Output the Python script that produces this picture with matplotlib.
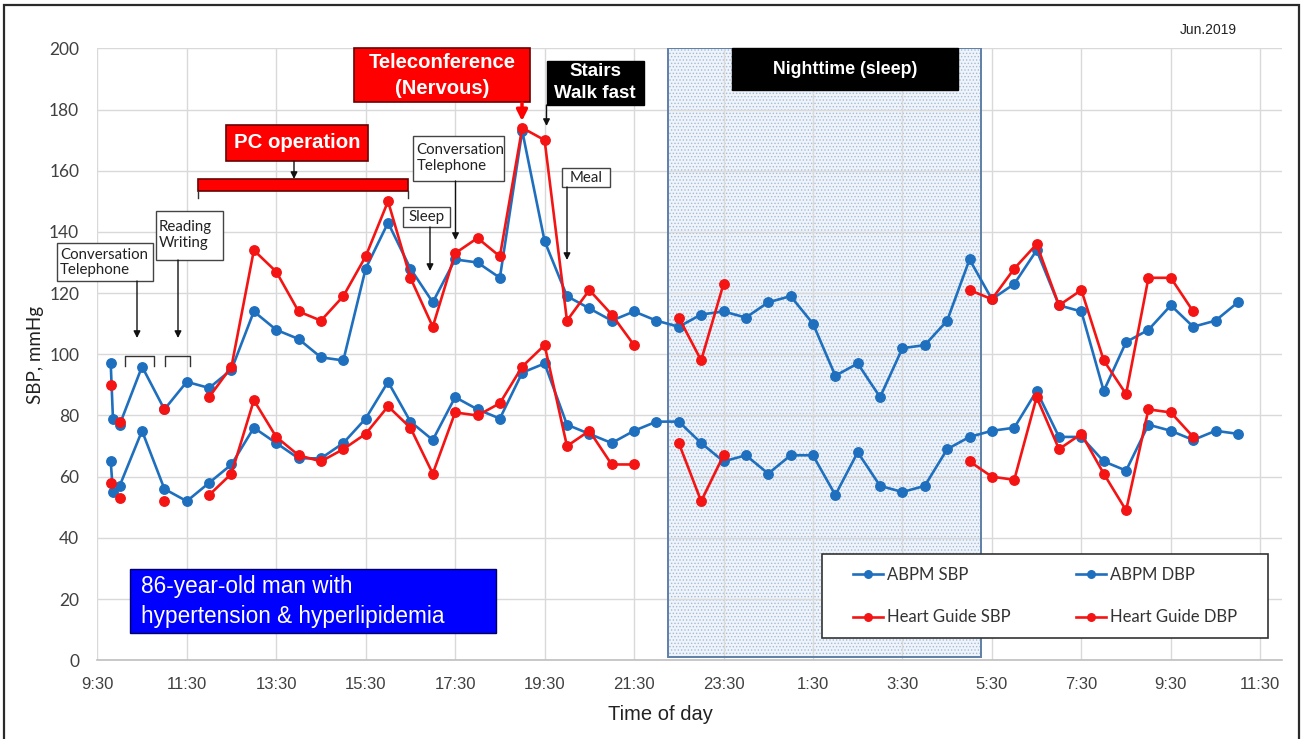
import matplotlib
matplotlib.use('Agg')
import matplotlib.pyplot as plt
from matplotlib.patches import Rectangle
from matplotlib import font_manager as fm
import numpy as np

# ---------------- data ----------------
times = ["9:48", "9:51", "10:00", "10:30", "11:00", "11:30", "12:00", "12:30",
         "13:00", "13:30", "14:00", "14:30", "15:00", "15:30", "16:00", "16:30",
         "17:00", "17:30", "18:00", "18:30", "19:00", "19:30", "20:00", "20:30",
         "21:00", "21:30", "22:00", "22:30", "23:00", "23:30", "0:00", "0:30",
         "1:00", "1:30", "2:00", "2:30", "3:00", "3:30", "4:00", "4:30",
         "5:00", "5:30", "6:00", "6:30", "7:00", "7:30", "8:00", "8:30",
         "9:00", "9:30", "10:00", "10:30", "11:00"]

abpm_sbp = [97, 79, 77, 96, 82, 91, 89, 95,
            114, 108, 105, 99, 98, 128, 143, 128,
            117, 131, 130, 125, 173, 137, 119, 115,
            111, 114, 111, 109, 113, 114, 112, 117,
            119, 110, 93, 97, 86, 102, 103, 111,
            131, 118, 123, 134, 116, 114, 88, 104,
            108, 116, 109, 111, 117]

abpm_dbp = [65, 55, 57, 75, 56, 52, 58, 64,
            76, 71, 66, 66, 71, 79, 91, 78,
            72, 86, 82, 79, 94, 97, 77, 74,
            71, 75, 78, 78, 71, 65, 67, 61,
            67, 67, 54, 68, 57, 55, 57, 69,
            73, 75, 76, 88, 73, 73, 65, 62,
            77, 75, 72, 75, 74]

hg_sbp = [90, None, 78, None, 82, None, 86, 96,
          134, 127, 114, 111, 119, 132, 150, 125,
          109, 133, 138, 132, 174, 170, 111, 121,
          113, 103, None, 112, 98, 123, None, None,
          None, None, None, None, None, None, None, None,
          121, 118, 128, 136, 116, 121, 98, 87,
          125, 125, 114, None, None]

hg_dbp = [58, None, 53, None, 52, None, 54, 61,
          85, 73, 67, 65, 69, 74, 83, 76,
          61, 81, 80, 84, 96, 103, 70, 75,
          64, 64, None, 71, 52, 67, None, None,
          None, None, None, None, None, None, None, None,
          65, 60, 59, 86, 69, 74, 61, 49,
          82, 81, 73, None, None]

x_tick_labels = ["9:30", "11:30", "13:30", "15:30", "17:30", "19:30", "21:30",
                 "23:30", "1:30", "3:30", "5:30", "7:30", "9:30", "11:30"]
y_ticks = [0, 20, 40, 60, 80, 100, 120, 140, 160, 180, 200]
series_labels = ["ABPM SBP", "ABPM DBP", "Heart Guide SBP", "Heart Guide DBP"]

# ---------------- helpers ----------------
def to_hours(labels):
    out, offset, prev = [], 0.0, -1.0
    for s in labels:
        h, m = s.split(":")
        v = int(h) + int(m) / 60.0
        if v + offset < prev:
            offset += 24.0
        out.append(v + offset)
        prev = v + offset
    return np.array(out)

def arr(v):
    return np.array([np.nan if a is None else a for a in v], dtype=float)

x = to_hours(times)

names = {f.name for f in fm.fontManager.ttflist}
NARROW = 'Liberation Sans Narrow' if 'Liberation Sans Narrow' in names else 'Liberation Sans'
ARIAL = 'Liberation Sans'
CAL = 'Lato' if 'Lato' in names else 'DejaVu Sans'

W, H = 1301, 739
fig = plt.figure(figsize=(W / 100, H / 100), dpi=100)

AX_L, AX_R, AX_T, AX_B = 97.3, 1282.0, 48.3, 660.3
ax = fig.add_axes([AX_L / W, 1 - AX_B / H, (AX_R - AX_L) / W, (AX_B - AX_T) / H])
X0 = 9.5
PXH = 44.73      # pixels per hour
PXU = 3.06       # pixels per mmHg
ax.set_xlim(X0, X0 + (AX_R - AX_L) / PXH)
ax.set_ylim(0, 200)

def D(px, py):
    return (X0 + (px - AX_L) / PXH, (AX_B - py) / PXU)

def box(x0, y0, x1, y1, fc, ec, lw=1.0, z=6, fill=True):
    bx, by = D(x0, y1)
    r = Rectangle((bx, by), (x1 - x0) / PXH, (y1 - y0) / PXU, facecolor=fc,
                  edgecolor=ec, lw=lw, clip_on=False, zorder=z, fill=fill)
    ax.add_patch(r)

def txt(px, py, s, **kw):
    tx, ty = D(px, py)
    ax.text(tx, ty, s, clip_on=False, zorder=7, **kw)

def arrow(px, py0, py1, color='#111111', lw=1.0, ms=10):
    ax.annotate('', xy=D(px, py1), xytext=D(px, py0), annotation_clip=False,
                arrowprops=dict(arrowstyle='-|>', color=color, lw=lw,
                                mutation_scale=ms, shrinkA=0, shrinkB=0),
                zorder=7)

def bracket(x0, x1, ytop, ybot):
    a = D(x0, ybot); b = D(x0, ytop); c = D(x1, ytop); d = D(x1, ybot)
    ax.plot([a[0], b[0], c[0], d[0]], [a[1], b[1], c[1], d[1]], color='#333333',
            lw=1.0, clip_on=False, zorder=6)

# ---------------- axes styling ----------------
ax.set_xticks([X0 + 2 * i for i in range(len(x_tick_labels))])
ax.set_xticklabels(x_tick_labels, fontfamily=NARROW, fontsize=12, color='#404040')
ax.set_yticks(y_ticks)
ax.set_yticklabels([str(v) for v in y_ticks], fontfamily=CAL, fontsize=12.5, color='#404040')
ax.tick_params(axis='both', length=0)
ax.tick_params(axis='x', pad=12)
ax.tick_params(axis='y', pad=13)
ax.grid(True, color='#d9d9d9', lw=1.0)
ax.set_axisbelow(True)
for s in ['left', 'right', 'top']:
    ax.spines[s].set_visible(False)
ax.spines['bottom'].set_color('#bfbfbf')
ax.spines['bottom'].set_linewidth(1.2)

fig.text(35 / W, 1 - 355 / H, "SBP, mmHg", rotation=90, ha='center', va='center',
         fontfamily=CAL, fontsize=13.5, color='#222222')
fig.text(660 / W, 1 - 715 / H, "Time of day", ha='center', va='center',
         fontfamily=NARROW, fontsize=14.5, color='#222222')
fig.text(1208 / W, 1 - 30 / H, "Jun.2019", ha='center', va='center',
         fontfamily=NARROW, fontsize=10, color='#222222')

# outer frame
fig.add_artist(Rectangle((4 / W, -0.02), (1299 - 4) / W, 1.02 - 5 / H,
                         transform=fig.transFigure, fill=False, edgecolor='#2a2a2a',
                         lw=1.6))

# ---------------- night band ----------------
plt.rcParams['hatch.linewidth'] = 0.6
n0, n1 = 22.25, 29.25
ax.add_patch(Rectangle((n0, 1), n1 - n0, 199, facecolor='#eff4fa', edgecolor='#a3bad6',
                       hatch='.....', lw=0, zorder=0.3))
ax.add_patch(Rectangle((n0, 1), n1 - n0, 199, fill=False, edgecolor='#5f7fa8',
                       lw=1.4, zorder=0.6))

# ---------------- series ----------------
BLUE = '#1f6fbf'
RED = '#f41414'
kw = dict(marker='o', markersize=6.8, lw=1.9, zorder=3)
l1, = ax.plot(x, arr(abpm_sbp), color=BLUE, **kw)
l2, = ax.plot(x, arr(abpm_dbp), color=BLUE, **kw)
l3, = ax.plot(x, arr(hg_sbp), color=RED, **kw)
l4, = ax.plot(x, arr(hg_dbp), color=RED, **kw)

# legend: frame drawn separately, entries positioned inside
box(822, 554, 1268, 638, 'white', '#333333', 1.2, z=7.5)
lx, ly = D(853, 596)
lx = (lx - ax.get_xlim()[0]) / (ax.get_xlim()[1] - ax.get_xlim()[0])
ly = ly / 200.0
leg = ax.legend([l1, l3, l2, l4], [series_labels[0], series_labels[2], series_labels[1], series_labels[3]],
                ncol=2, loc='center left', bbox_to_anchor=(lx, ly),
                borderaxespad=0, borderpad=0, frameon=False,
                prop={'family': CAL, 'size': 12},
                handlelength=1.8, handletextpad=0.25, labelspacing=1.62,
                columnspacing=3.9, markerscale=0.8)
leg.set_zorder(8)
for t in leg.get_texts():
    t.set_color('#333333')

# ---------------- annotations ----------------
# Teleconference
box(354, 48, 530, 102, '#ff0000', '#6a0000', 1.2)
txt(442, 62, "Teleconference", ha='center', va='center', color='white',
    fontfamily=NARROW, fontweight='bold', fontsize=14.6)
txt(442, 88, "(Nervous)", ha='center', va='center', color='white',
    fontfamily=NARROW, fontweight='bold', fontsize=14.6)
arrow(522, 103, 121, color='#ff0000', lw=2.5, ms=16)

# Stairs
box(547, 61, 644, 105, '#000000', '#000000', 1.0)
txt(595, 72, "Stairs", ha='center', va='center', color='white',
    fontfamily=NARROW, fontweight='bold', fontsize=13.5)
txt(595, 94, "Walk fast", ha='center', va='center', color='white',
    fontfamily=NARROW, fontweight='bold', fontsize=13.5)
arrow(546.5, 105, 126)

# Nighttime
box(732, 48, 958, 90, '#000000', '#000000', 1.0)
txt(845, 70, "Nighttime (sleep)", ha='center', va='center', color='white',
    fontfamily=NARROW, fontweight='bold', fontsize=12.8)

# PC operation
box(226, 125, 368, 161, '#ff0000', '#6a0000', 1.2)
txt(297, 143, "PC operation", ha='center', va='center', color='white',
    fontfamily=NARROW, fontweight='bold', fontsize=14.7)
arrow(294, 161, 179)
box(197.5, 179, 408, 191, '#ff0000', '#6a0000', 1.2)
for bxp in (198, 408):
    a = D(bxp, 191); b = D(bxp, 198)
    ax.plot([a[0], b[0]], [a[1], b[1]], color='#333333', lw=1.0, clip_on=False, zorder=6)

# Conversation / Telephone (left)
box(57, 243, 153, 281, 'white', '#444444', 1.0)
txt(60, 255, "Conversation", ha='left', va='center', color='#222222', fontfamily=CAL, fontsize=10.8)
txt(60, 270, "Telephone", ha='left', va='center', color='#222222', fontfamily=CAL, fontsize=10.8)
arrow(137, 281, 338)
bracket(125, 154, 356, 366)

# Reading / Writing
box(156, 211, 223, 260, 'white', '#444444', 1.0)
txt(159, 227, "Reading", ha='left', va='center', color='#222222', fontfamily=CAL, fontsize=10.8)
txt(159, 243, "Writing", ha='left', va='center', color='#222222', fontfamily=CAL, fontsize=10.8)
arrow(178, 260, 338)
bracket(165, 190, 356, 366)

# Sleep
box(403, 207, 450, 227, 'white', '#444444', 1.0)
txt(426.5, 217, "Sleep", ha='center', va='center', color='#222222', fontfamily=CAL, fontsize=10.8)
arrow(430, 227, 271)

# Conversation / Telephone (afternoon)
box(413, 136, 504, 181, 'white', '#444444', 1.0)
txt(416.5, 150, "Conversation", ha='left', va='center', color='#222222', fontfamily=CAL, fontsize=10.8)
txt(416.5, 166, "Telephone", ha='left', va='center', color='#222222', fontfamily=CAL, fontsize=10.8)
arrow(455.5, 181, 240)

# Meal
box(562, 168, 610, 187, 'white', '#444444', 1.0)
txt(586, 177.5, "Meal", ha='center', va='center', color='#222222', fontfamily=CAL, fontsize=10.8)
arrow(567, 187, 260)

# Patient info
box(130, 569, 496, 633, '#0000ff', '#000060', 1.0)
txt(141, 586, "86-year-old man with", ha='left', va='center', color='white',
    fontfamily=ARIAL, fontsize=16.3)
txt(141, 616, "hypertension & hyperlipidemia", ha='left', va='center', color='white',
    fontfamily=ARIAL, fontsize=16.3)

fig.savefig('out.png', dpi=100)
